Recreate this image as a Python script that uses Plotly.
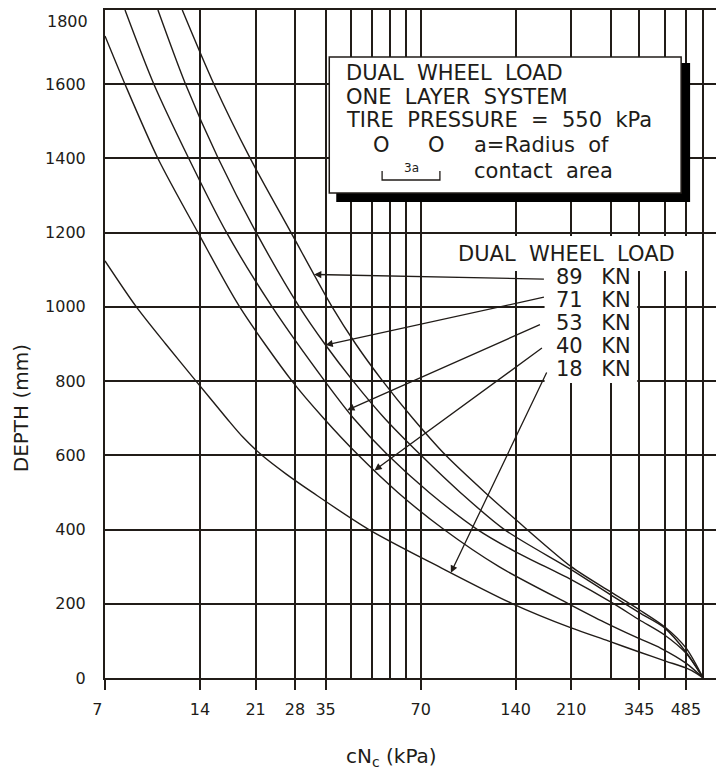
import numpy as np
import plotly.graph_objects as go

# depth (mm) vs required cNc (kPa) for each dual wheel load
loads = ["89 KN", "71 KN", "53 KN", "40 KN", "18 KN"]

depth_89 = [1800, 1600, 1400, 1200, 1000, 900, 800, 700, 600, 500, 427, 300, 232, 184, 138, 81, 0]
kpa_89 = [12.3, 15.5, 20.2, 27.2, 36.7, 43.6, 53.1, 66.1, 84.1, 112, 140, 210, 280, 345, 415, 485, 550]

depth_71 = [1800, 1600, 1400, 1200, 1000, 900, 800, 700, 600, 500, 400, 292, 224, 176, 135, 70, 0]
kpa_71 = [10.3, 12.6, 16.0, 21.1, 28.9, 34.8, 42.8, 53.8, 70.2, 93.5, 129, 210, 280, 345, 415, 485, 550]

depth_53 = [1800, 1600, 1400, 1200, 1000, 800, 700, 600, 500, 400, 340, 265, 205, 157, 116, 67, 0]
kpa_53 = [8.1, 10.0, 12.9, 17.0, 23.7, 34.8, 42.9, 55.2, 74.5, 106, 140, 210, 280, 345, 415, 485, 550]

depth_40 = [1730, 1600, 1400, 1200, 1000, 800, 700, 600, 500, 400, 300, 200, 150, 110, 80, 40, 0]
kpa_40 = [7, 8.1, 10.3, 13.8, 18.7, 27.4, 34.5, 44.5, 59.3, 83, 124, 206, 268, 337, 404, 485, 550]

depth_18 = [1124, 1000, 900, 800, 700, 650, 600, 550, 500, 400, 300, 200, 135, 100, 70, 45, 27, 12, 0]
kpa_18 = [7, 8.8, 10.9, 13.6, 17.0, 19.1, 22.0, 26.2, 31.8, 48, 80, 137, 210, 275, 345, 420, 485, 525, 550]

# where each label's leader arrow touches its curve (kPa) and where it starts (kPa, depth)
arrow_tip_kpa = [32.2, 35.0, 41.0, 50.0, 87.3]
arrow_tail = [(174, 1075), (174, 1027), (169, 954), (171.5, 892), (176.5, 827)]

x_labeled = [7, 14, 21, 28, 35, 70, 140, 210, 345, 485]
x_minor = [42, 49, 56, 63, 280, 415, 550, 620]
y_ticks = list(range(0, 1801, 200))

INK = "#211c18"
FONT = "DejaVu Sans"
NB = "\u00a0"

# the page body adds an 8px offset, so the figure is 8px smaller than the window
OFF = 8
W, H = 724 - OFF, 769 - OFF
L, R, T, B = 97, 0, 2, 91


def px(x):
    return (x - OFF - L) / (W - L - R)


def py(y):
    return (H - B - (y - OFF)) / (H - T - B)


series = [(depth_89, kpa_89), (depth_71, kpa_71), (depth_53, kpa_53),
          (depth_40, kpa_40), (depth_18, kpa_18)]

fig = go.Figure()
for name, (d, k) in zip(loads, series):
    fig.add_trace(go.Scatter(x=k, y=d, mode="lines", name=name, showlegend=False,
                             line=dict(color=INK, width=1.4, shape="spline", smoothing=0.8)))

# leader arrows from the load labels to their curves
for (d, k), tip, tail in zip(series, arrow_tip_kpa, arrow_tail):
    lk = np.log10(np.array(k, dtype=float))
    order = np.argsort(lk)
    tip_depth = float(np.interp(np.log10(tip), lk[order], np.array(d, dtype=float)[order]))
    fig.add_annotation(x=np.log10(tip), y=tip_depth, xref="x", yref="y",
                       ax=np.log10(tail[0]), ay=tail[1], axref="x", ayref="y",
                       text="", showarrow=True, arrowhead=2, arrowsize=1.1,
                       arrowwidth=1.3, arrowcolor=INK, standoff=0)

shapes = [
    # info box with its heavy drop shadow
    dict(type="rect", xref="paper", yref="paper", x0=px(337), x1=px(692), y0=py(202), y1=py(63),
         fillcolor="black", line=dict(width=0), layer="above"),
    dict(type="rect", xref="paper", yref="paper", x0=px(330), x1=px(683), y0=py(193), y1=py(57),
         fillcolor="white", line=dict(color=INK, width=1.5), layer="above"),
    # white patches behind the load labels
    dict(type="rect", xref="paper", yref="paper", x0=px(452), x1=px(700), y0=py(271), y1=py(236),
         fillcolor="white", line=dict(width=0), layer="above"),
    dict(type="rect", xref="paper", yref="paper", x0=px(546), x1=px(639), y0=py(383), y1=py(268),
         fillcolor="white", line=dict(width=0), layer="above"),
    # 3a spacing bracket
    dict(type="path", xref="paper", yref="paper",
         path=f"M {px(383)},{py(171)} L {px(383)},{py(180)} L {px(441)},{py(180)} L {px(441)},{py(171)}",
         line=dict(color=INK, width=1.3), layer="above"),
]

ann = []
box_lines = [("DUAL" + NB * 2 + "WHEEL" + NB * 2 + "LOAD", 73),
             ("ONE" + NB * 2 + "LAYER" + NB * 2 + "SYSTEM", 97),
             ("TIRE" + NB * 2 + "PRESSURE" + NB * 2 + "=" + NB * 2 + "550" + NB * 2 + "kPa", 120)]
for txt, yy in box_lines:
    ann.append(dict(text=txt, x=px(345), y=py(yy), xanchor="left", yanchor="middle", font_size=21))
for xx in (382, 438):
    ann.append(dict(text="O", x=px(xx), y=py(145), xanchor="center", yanchor="middle", font_size=21))
ann.append(dict(text="a=Radius" + NB * 2 + "of", x=px(473), y=py(145), xanchor="left",
                yanchor="middle", font_size=21))
ann.append(dict(text="contact" + NB * 2 + "area", x=px(473), y=py(171), xanchor="left",
                yanchor="middle", font_size=21))
ann.append(dict(text="3a", x=px(412), y=py(168), xanchor="center", yanchor="middle", font_size=12))

ann.append(dict(text="DUAL" + NB * 2 + "WHEEL" + NB * 2 + "LOAD", x=px(568), y=py(254),
                xanchor="center", yanchor="middle", font_size=21))
for i, name in enumerate(loads):
    num, unit = name.split()
    ann.append(dict(text=num + NB * 2 + "\u2005" + unit, x=px(555), y=py(277 + 23 * i),
                    xanchor="left", yanchor="middle", font_size=21))

# top depth label sits a little below its gridline in the original
ann.append(dict(text="1800", x=px(90), y=py(21), xanchor="right", yanchor="middle", font_size=16))

ann.append(dict(text="cN<sub>c</sub> (kPa)", x=px(392), y=py(757), xanchor="center",
                yanchor="middle", font_size=20))
ann.append(dict(text="DEPTH (mm)", x=px(21), y=py(408), xanchor="center", yanchor="middle",
                textangle=-90, font_size=20))

for a in ann:
    a.update(xref="paper", yref="paper", showarrow=False, font_family=FONT, font_color=INK)
    fig.add_annotation(**a)

fig.update_layout(
    width=W, height=H,
    margin=dict(l=L, r=R, t=T, b=B, pad=0),
    paper_bgcolor="white", plot_bgcolor="white",
    font=dict(family=FONT, size=16, color=INK),
    shapes=shapes,
)

x_text = [str(v) for v in x_labeled]
x_text[0] = "7" + NB * 3

fig.update_xaxes(
    type="log", range=[np.log10(7), 2.80],
    tickmode="array", tickvals=x_labeled, ticktext=x_text,
    ticks="outside", ticklen=10, tickwidth=1.5, tickcolor=INK, ticklabelstandoff=6,
    showgrid=True, gridcolor=INK, gridwidth=1.5,
    minor=dict(tickvals=x_minor, showgrid=True, gridcolor=INK, gridwidth=1.5, ticks=""),
    showline=True, linecolor=INK, linewidth=2, mirror=True, zeroline=False,
    tickfont=dict(size=16),
)
fig.update_yaxes(
    range=[0, 1800], tickmode="array", tickvals=y_ticks,
    ticktext=[str(v) if v < 1800 else "" for v in y_ticks],
    ticks="", ticklabelstandoff=14,
    showgrid=True, gridcolor=INK, gridwidth=2,
    showline=True, linecolor=INK, linewidth=2, mirror=True, zeroline=False,
    tickfont=dict(size=16),
)

fig.write_html("out.html")
